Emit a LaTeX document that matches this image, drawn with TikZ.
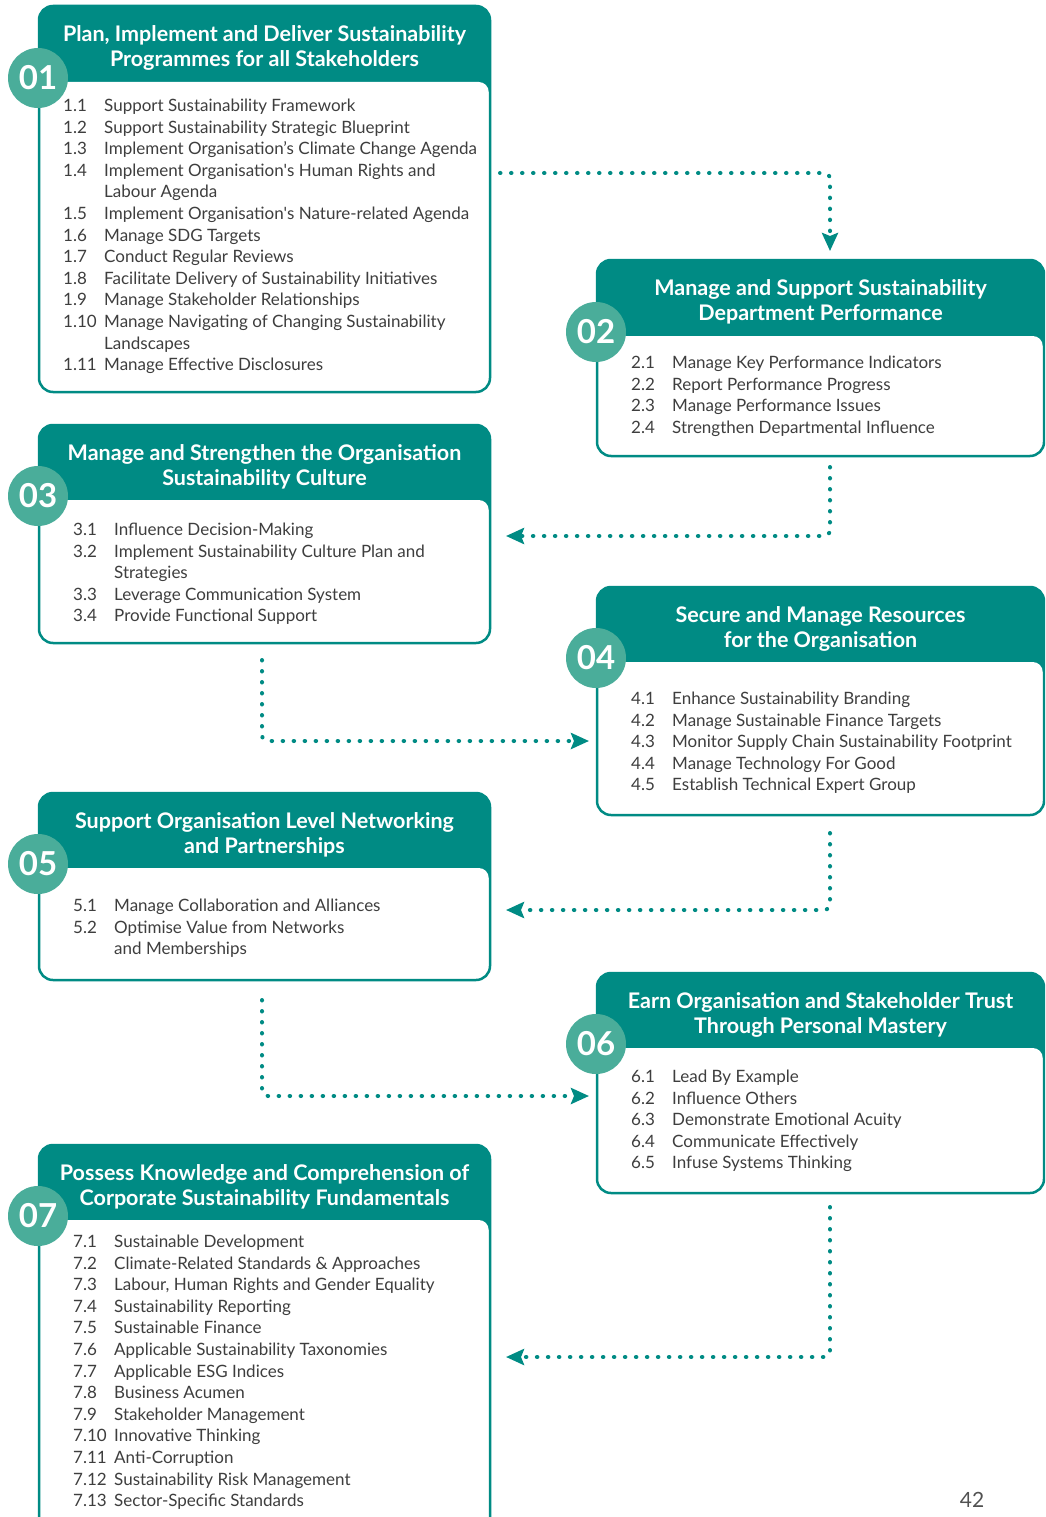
\documentclass[tikz,border=0pt]{standalone}
\usepackage{fontspec}
\setmainfont{Lato}
\usetikzlibrary{arrows.meta}
\definecolor{tealc}{HTML}{008B84}
\definecolor{badgec}{HTML}{4AAD9A}
\definecolor{txtc}{HTML}{3E3E3E}
\tikzset{
  frame/.style={draw=none, inner sep=0, outer sep=0, rectangle},
  head/.style={text=white, font=\fontsize{21.5}{25}\selectfont\bfseries, align=center, inner sep=0},
  badge/.style={circle, fill=badgec, minimum size=60, inner sep=0, text=white, font=\fontsize{33}{33}\selectfont\bfseries},
  numtxt/.style={anchor=base west, inner sep=0, text=txtc, font=\fontsize{17}{18}\selectfont},
  itemtxt/.style={anchor=base west, inner sep=0, text=txtc, font=\fontsize{17}{18}\selectfont},
  flow/.style={draw=tealc, line width=4, line cap=round, dash pattern=on 0.5pt off 10.5pt, rounded corners=6, -{Stealth[length=18pt,width=16pt,inset=3pt]}},
}
\newcommand\cbox[8]{%
 \node[frame, minimum width={#4-#2}, minimum height={#5-#3}, anchor=north west] (#1) at (#2,#3) {};
 \fill[white, rounded corners=14] (#2,#3) rectangle (#4,#5);
 \fill[tealc, rounded corners=14] (#2,#3) rectangle (#4,{#6+30});
 \fill[white, rounded corners=10] ({#2+1.25},#6) rectangle ({#4-1.25},{#5-1.25});
 \draw[tealc, line width=2.5, rounded corners=14] (#2,#3) rectangle (#4,#5);
 \node[head] (#1h) at ({(#2+#4)/2},{#3+42}) {#8};
 \node[badge] (#1c) at ({#2-1},{#6-4}) {#7};
}
\newcommand\itemlist[5]{%
 \foreach \n/\t [count=\i from 0] in {#5}{
   \node[numtxt] (#1n\i) at (#2,{#4+6.5+21.6*\i}) {\n};
   \node[itemtxt] (#1t\i) at (#3,{#4+6.5+21.6*\i}) {\t};
 }}
\begin{document}
\begin{tikzpicture}[x=1pt,y=-1pt]
\useasboundingbox (0,0) rectangle (1045,1517);
\clip (0,0) rectangle (1045,1517);
\cbox{b1}{39}{6}{490}{392}{82}{01}{Plan, Implement and Deliver Sustainability\\Programmes for all Stakeholders}
\cbox{b2}{597}{260}{1044}{456}{336}{02}{Manage and Support Sustainability\\Department Performance}
\cbox{b3}{39}{425}{490}{643}{500}{03}{Manage and Strengthen the Organisation\\Sustainability Culture}
\cbox{b4}{597}{587}{1044}{815}{662}{04}{Secure and Manage Resources\\for the Organisation}
\cbox{b5}{39}{793}{490}{980}{868}{05}{Support Organisation Level Networking\\and Partnerships}
\cbox{b6}{597}{973}{1044}{1193}{1048}{06}{Earn Organisation and Stakeholder Trust\\Through Personal Mastery}
\cbox{b7}{39}{1145}{490}{1560}{1220}{07}{Possess Knowledge and Comprehension of\\Corporate Sustainability Fundamentals}

\itemlist{l1}{63}{104}{105}{1.1/Support Sustainability Framework,
 1.2/Support Sustainability Strategic Blueprint,
 1.3/Implement Organisation’s Climate Change Agenda,
 1.4/Implement Organisation\textquotesingle s Human Rights and,
 {}/Labour Agenda,
 1.5/Implement Organisation\textquotesingle s Nature-related Agenda,
 1.6/Manage SDG Targets,
 1.7/Conduct Regular Reviews,
 1.8/Facilitate Delivery of Sustainability Initiatives,
 1.9/Manage Stakeholder Relationships,
 1.10/Manage Navigating of Changing Sustainability,
 {}/Landscapes,
 1.11/Manage Effective Disclosures}
\itemlist{l2}{631}{672}{362}{2.1/Manage Key Performance Indicators,
 2.2/Report Performance Progress,
 2.3/Manage Performance Issues,
 2.4/Strengthen Departmental Influence}
\itemlist{l3}{73}{114}{529}{3.1/Influence Decision-Making,
 3.2/Implement Sustainability Culture Plan and,
 {}/Strategies,
 3.3/Leverage Communication System,
 3.4/Provide Functional Support}
\itemlist{l4}{631}{672}{698}{4.1/Enhance Sustainability Branding,
 4.2/Manage Sustainable Finance Targets,
 4.3/Monitor Supply Chain Sustainability Footprint,
 4.4/Manage Technology For Good,
 4.5/Establish Technical Expert Group}
\itemlist{l5}{73}{114}{905}{5.1/Manage Collaboration and Alliances,
 5.2/Optimise Value from Networks,
 {}/and Memberships}
\itemlist{l6}{631}{672}{1076}{6.1/Lead By Example,
 6.2/Influence Others,
 6.3/Demonstrate Emotional Acuity,
 6.4/Communicate Effectively,
 6.5/Infuse Systems Thinking}
\itemlist{l7}{73}{114}{1241}{7.1/Sustainable Development,
 7.2/Climate-Related Standards \& Approaches,
 7.3/{Labour\kern-0.5pt, Human Rights and Gender Equality},
 7.4/Sustainability Reporting,
 7.5/Sustainable Finance,
 7.6/Applicable Sustainability Taxonomies,
 7.7/Applicable ESG Indices,
 7.8/Business Acumen,
 7.9/Stakeholder Management,
 7.10/Innovative Thinking,
 7.11/Anti-Corruption,
 7.12/Sustainability Risk Management,
 7.13/Sector-Specific Standards}

\coordinate (a1s) at (500,173); \coordinate (a1e) at (830,251);
\coordinate (a2s) at (830,467); \coordinate (a2e) at (506,536);
\coordinate (a3s) at (262,660); \coordinate (a3e) at (589,741);
\coordinate (a4s) at (830,833); \coordinate (a4e) at (506,910);
\coordinate (a5s) at (262,1000); \coordinate (a5e) at (589,1096);
\coordinate (a6s) at (830,1207); \coordinate (a6e) at (506,1357);
\draw[flow] (a1s) -| (a1e);
\draw[flow] (a2s) |- (a2e);
\draw[flow] (a3s) |- (a3e);
\draw[flow] (a4s) |- (a4e);
\draw[flow] (a5s) |- (a5e);
\draw[flow] (a6s) |- (a6e);

\node[text=txtc!90, font=\fontsize{21}{21}\selectfont, inner sep=0] (pg) at (972,1500) {42};
\end{tikzpicture}
\end{document}
